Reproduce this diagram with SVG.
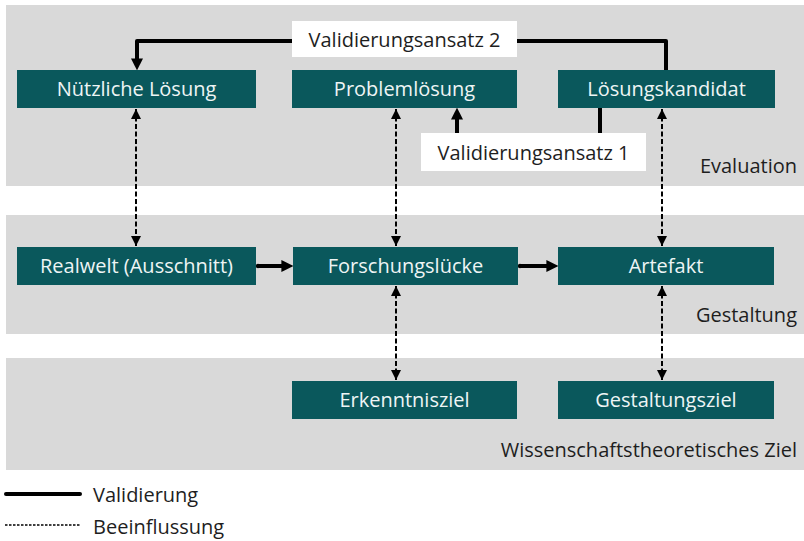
<svg xmlns="http://www.w3.org/2000/svg" width="804" height="541" viewBox="0 0 804 541">
  <style>
    .band { fill: #d9d9d9; }
    .node rect { fill: #0a585c; }
    .node text { fill: #eef5f5; font-family: "Open Sans", "Noto Sans", sans-serif; font-size: 20px; text-anchor: middle; }
    .lbl { fill: #1e1e1e; font-family: "Open Sans", "Noto Sans", sans-serif; font-size: 20px; }
    .right { text-anchor: end; }
    .mid { text-anchor: middle; }
    .solid { fill: none; stroke: #000; stroke-width: 4; stroke-linejoin: round; }
    .dash { fill: none; stroke: #000; stroke-width: 2; stroke-dasharray: 5 2.5; }
  </style>
  <defs>
    <marker id="arrowBig" viewBox="0 0 10 10" refX="3" refY="5" markerWidth="3" markerHeight="3" markerUnits="strokeWidth" orient="auto">
      <path d="M0,0 L10,5 L0,10 Z" fill="#000"/>
    </marker>
    <marker id="arrowSmall" viewBox="0 0 10 10" refX="10" refY="5" markerWidth="5.2" markerHeight="5.2" markerUnits="strokeWidth" orient="auto-start-reverse">
      <path d="M0,0 L10,5 L0,10 Z" fill="#000"/>
    </marker>
  </defs>

  <!-- background bands -->
  <rect class="band" x="6" y="5" width="798" height="181"/>
  <rect class="band" x="6" y="215" width="798" height="119"/>
  <rect class="band" x="6" y="358" width="798" height="112"/>

  <text class="lbl right" x="797" y="173">Evaluation</text>
  <text class="lbl right" x="797" y="322">Gestaltung</text>
  <text class="lbl right" x="797" y="457">Wissenschaftstheoretisches Ziel</text>

  <!-- connectors -->
  <g id="connectors">
    <!-- Validierungsansatz 2 -->
    <path class="solid" d="M292,41 H137 V62" marker-end="url(#arrowBig)" />
    <path class="solid" d="M517,41 H666 V70" />
    <!-- Validierungsansatz 1 -->
    <path class="solid" d="M600,108 V133" />
    <path class="solid" d="M457,133 V116" marker-end="url(#arrowBig)" />
    <!-- main flow -->
    <path class="solid" d="M258,266 H285" marker-end="url(#arrowBig)" />
    <path class="solid" d="M520,266 H550" marker-end="url(#arrowBig)" />
    <circle cx="258" cy="266" r="2.2"/>
    <circle cx="520" cy="266" r="2.2"/>
    <!-- influence links -->
    <path class="dash" d="M136,109 V246" marker-start="url(#arrowSmall)" marker-end="url(#arrowSmall)" />
    <path class="dash" d="M396,109 V246" marker-start="url(#arrowSmall)" marker-end="url(#arrowSmall)" />
    <path class="dash" d="M396,286 V380" marker-start="url(#arrowSmall)" marker-end="url(#arrowSmall)" />
    <path class="dash" d="M662,109 V246" marker-start="url(#arrowSmall)" marker-end="url(#arrowSmall)" />
    <path class="dash" d="M662,286 V380" marker-start="url(#arrowSmall)" marker-end="url(#arrowSmall)" />
  </g>

  <!-- approach labels -->
  <g id="ansatz2">
    <rect x="292" y="21" width="225" height="36" fill="#fff"/>
    <text class="lbl mid" x="404.5" y="47">Validierungsansatz 2</text>
  </g>
  <g id="ansatz1">
    <rect x="421" y="133" width="225" height="38" fill="#fff"/>
    <text class="lbl mid" x="533.5" y="160">Validierungsansatz 1</text>
  </g>

  <!-- nodes -->
  <g id="nuetzliche-loesung" class="node">
    <rect x="17" y="70" width="239" height="38"/>
    <text x="136.5" y="96">Nützliche Lösung</text>
  </g>
  <g id="problemloesung" class="node">
    <rect x="292" y="70" width="225" height="38"/>
    <text x="404.5" y="96">Problemlösung</text>
  </g>
  <g id="loesungskandidat" class="node">
    <rect x="558" y="70" width="217" height="38"/>
    <text x="666.5" y="96">Lösungskandidat</text>
  </g>
  <g id="realwelt" class="node">
    <rect x="17" y="247" width="239" height="38"/>
    <text x="136.5" y="273">Realwelt (Ausschnitt)</text>
  </g>
  <g id="forschungsluecke" class="node">
    <rect x="293" y="247" width="225" height="38"/>
    <text x="405.5" y="273">Forschungslücke</text>
  </g>
  <g id="artefakt" class="node">
    <rect x="558" y="247" width="216" height="38"/>
    <text x="666" y="273">Artefakt</text>
  </g>
  <g id="erkenntnisziel" class="node">
    <rect x="292" y="381" width="225" height="38"/>
    <text x="404.5" y="407">Erkenntnisziel</text>
  </g>
  <g id="gestaltungsziel" class="node">
    <rect x="558" y="381" width="216" height="38"/>
    <text x="666" y="407">Gestaltungsziel</text>
  </g>

  <!-- legend -->
  <g id="legend">
    <line x1="6" y1="494" x2="80" y2="494" stroke="#000" stroke-width="4" stroke-linecap="round"/>
    <text class="lbl" x="93" y="502">Validierung</text>
    <line x1="5" y1="525" x2="80" y2="525" stroke="#000" stroke-width="1.3" stroke-dasharray="2.5 1.5"/>
    <text class="lbl" x="93" y="534">Beeinflussung</text>
  </g>
</svg>
